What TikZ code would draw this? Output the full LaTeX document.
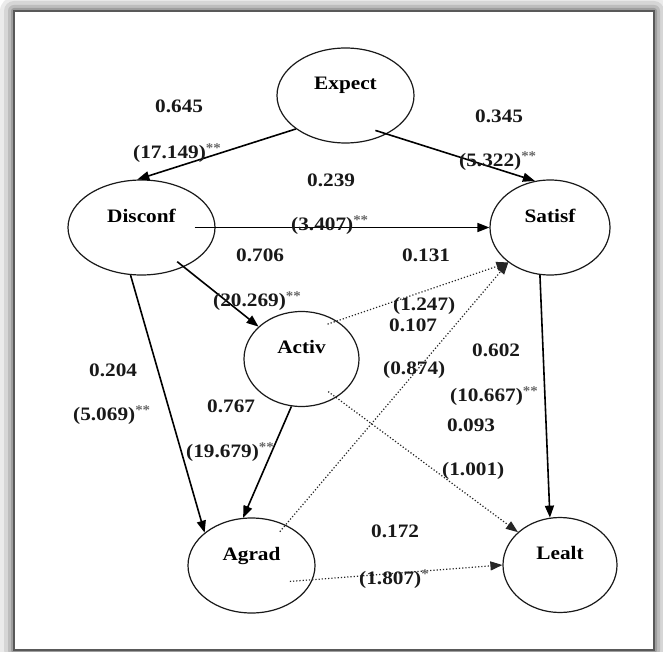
\documentclass[tikz,border=0pt]{standalone}
\usepackage{fontspec}
\setmainfont{Liberation Serif}[FakeStretch=1.12]
\usetikzlibrary{shapes.geometric,arrows.meta}

\tikzstyle{latent}  = [ellipse, draw=black!90, line width=1.2pt
                      , minimum height=95pt, inner sep=0pt, text depth=24pt
                      , font=\fontsize{19}{22}\selectfont\bfseries]
\tikzstyle{coef}    = [anchor=west, inner sep=0pt, text=black!90
                      , font=\fontsize{19}{22}\selectfont\bfseries]
\tikzstyle{sigpath} = [draw, line width=1.6pt, -{Triangle[length=12pt,width=9pt]}]
\tikzstyle{nspath}  = [sigpath, line width=1.2pt, dotted, draw=black!85]

\newcommand{\sig}[1]{\textsuperscript{\textcolor{black!60}{#1}}}

\begin{document}
\begin{tikzpicture}[x=1pt, y=-1pt]
\useasboundingbox (0,0) rectangle (663,652);

%% Frame with shadow
\foreach \g/\c in {14/8, 10/16, 6/26, 3/38}
  \fill[black!\c, rounded corners=\g pt] (14-\g,11-\g) rectangle (654+\g,650+\g);
\draw[fill=white, draw=black!65, line width=1.8pt] (14,11) rectangle (654,650);

%% Latent variables
\node [latent, minimum width=137pt] (Expect-Var)  at (345.5,95.5) {Expect};
\node [latent, minimum width=147pt] (Disconf-Var) at (141.5,227.5) {Disconf};
\node [latent, minimum width=120pt] (Satisf-Var)  at (550,227.5) {Satisf};
\node [latent, minimum width=115pt] (Activ-Var)   at (301.5,359) {Activ};
\node [latent, minimum width=127pt] (Agrad-Var)   at (251.5,565.5) {Agrad};
\node [latent, minimum width=114pt] (Lealt-Var)   at (560,565) {Lealt};

%% Significant paths
\draw [sigpath] (Expect-Var.214) -- (Disconf-Var.95);
\draw [sigpath, shorten <=-12pt] (Expect-Var.-43) -- (Satisf-Var.108);
\draw [sigpath, shorten <=-21pt] (Disconf-Var.east) -- (Satisf-Var.west);
\draw [sigpath, shorten <=-8.5pt] (Disconf-Var.-43) -- (Activ-Var.143);
\draw [sigpath] (Disconf-Var.257) -- (Agrad-Var.145);
\draw [sigpath] (Activ-Var.258) -- (Agrad-Var.100);
\draw [sigpath] (Satisf-Var.258) -- (Lealt-Var.102);

%% Non significant paths
\draw [nspath, shorten <=-10pt] (Activ-Var.47) -- (Satisf-Var.220);
\draw [nspath, shorten <=-9pt] (Agrad-Var.50) -- (Satisf-Var.220);
\draw [nspath, shorten <=-10pt] (Activ-Var.-48) -- (Lealt-Var.142);
\draw [nspath, shorten <=-23pt] (Agrad-Var.-13) -- (Lealt-Var.west);

%% Coefficients and t values
\node [coef] (ExpDis-Coef) at (155,106) {0.645};
\node [coef] (ExpDis-Tval) at (133,153) {(17.149)\sig{**}};
\node [coef] (ExpSat-Coef) at (475,116) {0.345};
\node [coef] (ExpSat-Tval) at (459,161) {(5.322)\sig{**}};
\node [coef] (DisSat-Coef) at (307,180) {0.239};
\node [coef] (DisSat-Tval) at (291,225) {(3.407)\sig{**}};
\node [coef] (DisAct-Coef) at (236,255) {0.706};
\node [coef] (DisAct-Tval) at (213,301) {(20.269)\sig{**}};
\node [coef] (ActSat-Coef) at (402,255) {0.131};
\node [coef] (ActSat-Tval) at (393,306) {(1.247)};
\node [coef] (AgrSat-Coef) at (389,325) {0.107};
\node [coef] (AgrSat-Tval) at (383,370) {(0.874)};
\node [coef] (SatLea-Coef) at (472,350) {0.602};
\node [coef] (SatLea-Tval) at (450,396) {(10.667)\sig{**}};
\node [coef] (ActLea-Coef) at (447,425) {0.093};
\node [coef] (ActLea-Tval) at (442,471) {(1.001)};
\node [coef] (DisAgr-Coef) at (89,370) {0.204};
\node [coef] (DisAgr-Tval) at (73,415) {(5.069)\sig{**}};
\node [coef] (ActAgr-Coef) at (207,406) {0.767};
\node [coef] (ActAgr-Tval) at (186,452) {(19.679)\sig{**}};
\node [coef] (AgrLea-Coef) at (371,531) {0.172};
\node [coef] (AgrLea-Tval) at (359,579) {(1.807)\sig{*}};

\end{tikzpicture}
\end{document}
